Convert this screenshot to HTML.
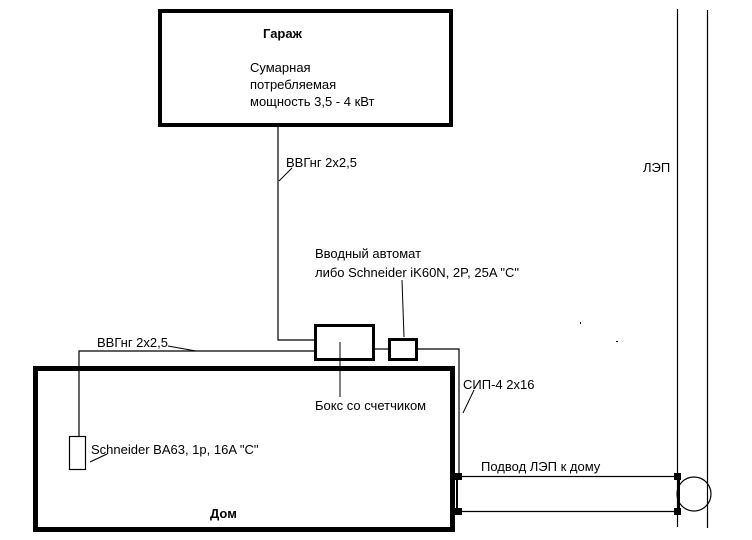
<!DOCTYPE html>
<html><head><meta charset="utf-8"><style>
html,body{margin:0;padding:0;background:#fff;}
svg{display:block}
text{font-family:"Liberation Sans","DejaVu Sans",sans-serif;font-size:13px;fill:#000}
</style></head><body>
<svg width="752" height="540" viewBox="0 0 752 540" xmlns="http://www.w3.org/2000/svg">
<rect x="0" y="0" width="752" height="540" fill="#fff"/>
<rect x="160" y="11" width="291" height="114" fill="none" stroke="#000" stroke-width="4"/>
<text x="263" y="38" font-weight="bold">Гараж</text>
<text x="250" y="72">Сумарная</text>
<text x="250" y="89">потребляемая</text>
<text x="250" y="106">мощность 3,5 - 4 кВт</text>
<polyline points="278,127 278,340 314,340" fill="none" stroke="#000" stroke-width="1.2"/>
<line x1="279" y1="181" x2="292" y2="168" stroke="#000" stroke-width="1"/>
<text x="286" y="167">ВВГнг  2х2,5</text>
<rect x="35.5" y="368.5" width="417" height="161" fill="none" stroke="#000" stroke-width="5"/>
<text x="210" y="518" font-weight="bold">Дом</text>
<rect x="315.5" y="325.5" width="58" height="34" fill="none" stroke="#000" stroke-width="3"/>
<line x1="340" y1="342" x2="340" y2="397" stroke="#000" stroke-width="1"/>
<text x="315" y="410">Бокс со счетчиком</text>
<rect x="389.5" y="339.5" width="27" height="20" fill="none" stroke="#000" stroke-width="3"/>
<line x1="374" y1="349" x2="388" y2="349" stroke="#000" stroke-width="1.2"/>
<line x1="402" y1="280" x2="404" y2="337" stroke="#000" stroke-width="1"/>
<text x="315" y="258">Вводный автомат</text>
<text x="315" y="277">либо Schneider iK60N, 2P, 25A "C"</text>
<polyline points="418,349 459,349 459,476" fill="none" stroke="#000" stroke-width="1.2"/>
<line x1="463" y1="413" x2="474" y2="390" stroke="#000" stroke-width="1"/>
<text x="463" y="389">СИП-4  2х16</text>
<polyline points="314,351 79,351 79,436" fill="none" stroke="#000" stroke-width="1.2"/>
<line x1="168" y1="346" x2="196" y2="351" stroke="#000" stroke-width="1"/>
<text x="97" y="347">ВВГнг 2х2,5</text>
<rect x="69.5" y="436.5" width="16" height="33" fill="none" stroke="#000" stroke-width="1.2"/>
<line x1="90" y1="462" x2="107" y2="454" stroke="#000" stroke-width="1"/>
<text x="91" y="454">Schneider BA63, 1p, 16A "C"</text>
<line x1="457" y1="477" x2="457" y2="512" stroke="#000" stroke-width="2"/>
<line x1="458" y1="476.5" x2="678" y2="476.5" stroke="#000" stroke-width="1.2"/>
<line x1="458" y1="511.5" x2="678" y2="511.5" stroke="#000" stroke-width="1.2"/>
<rect x="455" y="473" width="7" height="7" fill="#000"/>
<rect x="455" y="508" width="7" height="7" fill="#000"/>
<rect x="674" y="473" width="7" height="7" fill="#000"/>
<rect x="674" y="508" width="7" height="7" fill="#000"/>
<line x1="679" y1="477" x2="679" y2="512" stroke="#000" stroke-width="2"/>
<text x="481" y="471">Подвод ЛЭП к дому</text>
<line x1="677.5" y1="9" x2="677.5" y2="527" stroke="#000" stroke-width="1.2"/>
<line x1="707.5" y1="10" x2="707.5" y2="528" stroke="#000" stroke-width="1.2"/>
<circle cx="694" cy="494" r="17" fill="none" stroke="#000" stroke-width="1.2"/>
<text x="643" y="172">ЛЭП</text>
<rect x="580" y="322" width="1" height="2" fill="#000"/>
<rect x="616" y="341" width="2" height="1" fill="#000"/>
</svg>
</body></html>
